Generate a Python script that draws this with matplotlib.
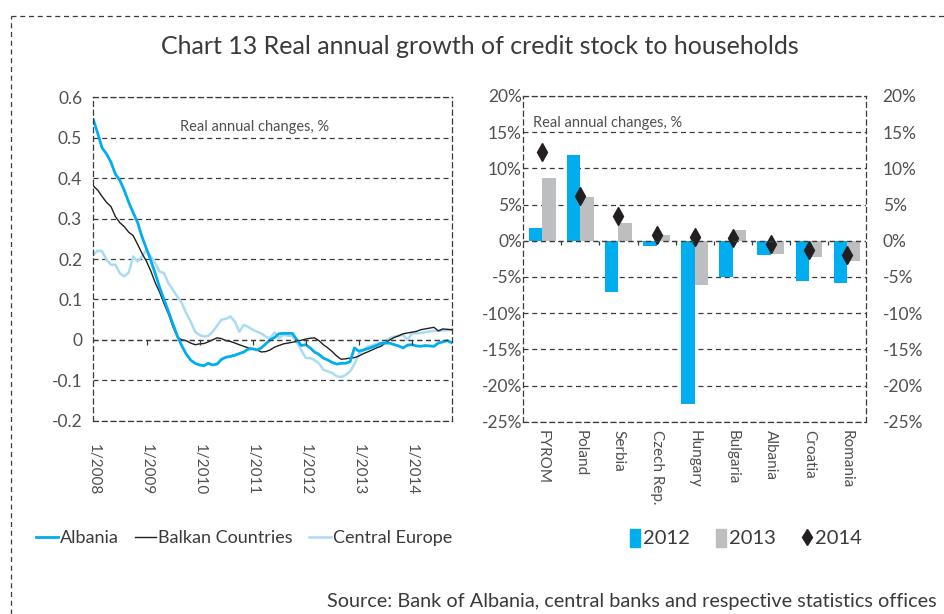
import matplotlib
matplotlib.use("Agg")
import matplotlib.pyplot as plt
from matplotlib.lines import Line2D
from matplotlib.patches import Rectangle
import numpy as np
import pandas as pd

plt.rcParams['font.family'] = ['Lato', 'DejaVu Sans']

# left panel: monthly real annual changes, Jan 2008 - Oct 2014
months = pd.date_range("2008-01-01", periods=82, freq="MS")
albania = [0.545, 0.51, 0.475, 0.46, 0.44, 0.41, 0.395, 0.37, 0.34, 0.315,
           0.29, 0.255, 0.225, 0.195, 0.165, 0.13, 0.10, 0.07, 0.04, 0.01,
           -0.015, -0.035, -0.05, -0.058, -0.062, -0.064, -0.058, -0.062, -0.06, -0.048,
           -0.043, -0.041, -0.038, -0.034, -0.03, -0.023, -0.022, -0.025, -0.02, -0.01,
           0.0, 0.006, 0.015, 0.016, 0.016, 0.016, 0.0, -0.014, -0.012, -0.02,
           -0.03, -0.036, -0.045, -0.05, -0.056, -0.06, -0.058, -0.058, -0.054, -0.02,
           -0.028, -0.025, -0.022, -0.018, -0.014, -0.009, -0.008, -0.008, -0.012, -0.015,
           -0.02, -0.013, -0.012, -0.015, -0.016, -0.014, -0.015, -0.016, -0.008, -0.005,
           -0.002, -0.007]
balkan = [0.381, 0.37, 0.355, 0.34, 0.33, 0.305, 0.29, 0.28, 0.266, 0.258,
          0.236, 0.214, 0.194, 0.169, 0.142, 0.118, 0.09, 0.064, 0.033, 0.007,
          0.0, -0.002, -0.008, -0.012, -0.01, -0.009, -0.005, 0.0, 0.005, 0.003,
          -0.002, -0.004, -0.008, -0.012, -0.016, -0.02, -0.022, -0.025, -0.03, -0.029,
          -0.025, -0.018, -0.014, -0.01, -0.008, -0.006, -0.004, -0.001, 0.002, 0.004,
          0.005, -0.002, -0.012, -0.02, -0.029, -0.04, -0.048, -0.047, -0.045, -0.044,
          -0.04, -0.034, -0.03, -0.025, -0.02, -0.016, -0.008, 0.0, 0.006, 0.01,
          0.015, 0.017, 0.019, 0.021, 0.025, 0.027, 0.029, 0.031, 0.022, 0.027,
          0.026, 0.025]
central_europe = [0.21, 0.221, 0.219, 0.198, 0.186, 0.186, 0.165, 0.157, 0.167, 0.206,
                  0.194, 0.206, 0.223, 0.206, 0.19, 0.169, 0.165, 0.14, 0.124, 0.107,
                  0.091, 0.066, 0.045, 0.02, 0.012, 0.008, 0.01, 0.02, 0.035, 0.05,
                  0.052, 0.058, 0.045, 0.02, 0.037, 0.032, 0.025, 0.02, 0.016, 0.008,
                  0.004, 0.018, 0.005, 0.012, 0.01, 0.01, -0.006, -0.025, -0.045, -0.045,
                  -0.05, -0.058, -0.074, -0.078, -0.082, -0.09, -0.092, -0.087, -0.078, -0.06,
                  -0.035, -0.025, -0.017, -0.014, -0.01, -0.007, -0.003, 0.004, 0.008, 0.01,
                  0.012, 0.0, 0.016, 0.016, 0.017, 0.019, 0.021, 0.022, 0.023, 0.023,
                  0.024, 0.025]
left_yticks = [0.6, 0.5, 0.4, 0.3, 0.2, 0.1, 0, -0.1, -0.2]
left_ylabels = ["0.6", "0.5", "0.4", "0.3", "0.2", "0.1", "0", "-0.1", "-0.2"]
year_ticks = pd.date_range("2008-01-01", "2014-01-01", freq="YS")

# right panel: annual changes by country, %
countries = ["FYROM", "Poland", "Serbia", "Czech Rep.", "Hungary",
             "Bulgaria", "Albania", "Croatia", "Romania"]
y2012 = [1.7, 11.8, -7.1, -0.7, -22.6, -5.0, -1.9, -5.6, -5.85]
y2013 = [8.7, 6.0, 2.4, 0.85, -6.1, 1.45, -1.8, -2.2, -2.75]
y2014 = [12.2, 6.2, 3.45, 0.8, 0.45, 0.4, -0.5, -1.25, -1.9]
right_yticks = [20, 15, 10, 5, 0, -5, -10, -15, -20, -25]
right_ylabels = ["20%", "15%", "10%", "5%", "0%", "-5%", "-10%", "-15%", "-20%", "-25%"]

BLUE = "#00AEEF"
LIGHT = "#A9DCF4"
GREY = "#BCBEC0"
DARK = "#231F20"
TXT = "#505050"
GRID = "#3A3A3A"
dash = (0, (4, 3))

fig = plt.figure(figsize=(9.44, 6.14), dpi=100)

# outer dashed frame (top and left)
fig.add_artist(Line2D([11 / 944, 1], [1 - 16 / 614] * 2, transform=fig.transFigure,
                      color=GRID, lw=0.9, linestyle=dash))
fig.add_artist(Line2D([11 / 944] * 2, [0, 1 - 16 / 614], transform=fig.transFigure,
                      color=GRID, lw=0.9, linestyle=dash))

fig.text(0.508, 1 - 47 / 614, "Chart 13 Real annual growth of credit stock to households",
         ha="center", va="center", fontsize=18, color="#3a3a3a")


def style_frame(ax):
    for s in ax.spines.values():
        s.set_linestyle(dash)
        s.set_color(GRID)
        s.set_linewidth(0.9)
    ax.grid(axis="y", color=GRID, linestyle=dash, linewidth=0.9)
    ax.set_axisbelow(True)
    ax.tick_params(length=0, colors=TXT)


# ---- left panel
ax1 = fig.add_axes([93.3 / 944, 1 - 420.7 / 614, 358.4 / 944, 323.4 / 614])
ax1.plot(months, central_europe, color=LIGHT, lw=1.8, label="Central Europe")
ax1.plot(months, balkan, color=DARK, lw=1.0, label="Balkan Countries")
ax1.plot(months, albania, color=BLUE, lw=2.0, label="Albania")
ax1.set_xlim(months[0], months[-1])
ax1.set_ylim(-0.2, 0.6)
ax1.set_yticks(left_yticks)
ax1.set_yticklabels(left_ylabels, fontsize=12.5)
ax1.set_xticks(year_ticks)
ax1.set_xticklabels([f"1/{d.year}" for d in year_ticks], rotation=270, fontsize=11)
style_frame(ax1)
ax1.tick_params(axis="y", pad=8)
ax1.tick_params(axis="x", pad=17)
ax1.axhline(0, color=GRID, lw=0.9, linestyle=dash)
ax1.vlines(year_ticks[1:], 0, -0.012, color=GRID, lw=0.9)
ax1.text(0.451, 0.908, "Real annual changes, %", transform=ax1.transAxes,
         ha="center", va="center", fontsize=10.5, color=TXT)

h, l = ax1.get_legend_handles_labels()
fig.legend(h[::-1], l[::-1], loc="center left", bbox_to_anchor=(29 / 944, 1 - 538 / 614),
           ncol=3, frameon=False, fontsize=13, handlelength=1.2, handletextpad=0.1,
           columnspacing=0.9, borderaxespad=0, labelcolor="#3a3a3a")

# ---- right panel
ax2 = fig.add_axes([523.3 / 944, 1 - 421.7 / 614, 342.7 / 944, 325.7 / 614])
x = np.arange(len(countries))
w = 0.35
ax2.bar(x - w / 2, y2012, w, color=BLUE, label="2012")
ax2.bar(x + w / 2, y2013, w, color=GREY, label="2013")
ax2.plot(x, y2014, linestyle="none", marker="d", markersize=9, color=DARK, label="2014")
ax2.set_xlim(-0.5, len(countries) - 0.5)
ax2.set_ylim(-25, 20)
ax2.set_yticks(right_yticks)
ax2.set_yticklabels(right_ylabels, fontsize=12.5)
ax2.set_xticks(x)
ax2.set_xticklabels(countries, rotation=270, fontsize=11, va="top")
style_frame(ax2)
ax2.tick_params(axis="y", pad=1)
ax2.tick_params(axis="x", pad=6)
ax2.axhline(0, color=GRID, lw=0.9, linestyle=dash)
ax2.vlines(x[:-1] + 0.5, 0, -0.6, color=GRID, lw=0.9)
ax2.text(0.028, 0.917, "Real annual changes, %", transform=ax2.transAxes,
         ha="left", va="center", fontsize=10.5, color=TXT)
ax3 = ax2.twinx()
ax3.set_ylim(ax2.get_ylim())
ax3.set_yticks(right_yticks)
ax3.set_yticklabels(right_ylabels, fontsize=12.5)
ax3.tick_params(length=0, colors=TXT, pad=12)
for s in ax3.spines.values():
    s.set_visible(False)

bar_handles = [Rectangle((0, 0), 0.4, 1, color=BLUE),
               Rectangle((0, 0), 0.4, 1, color=GREY),
               Line2D([], [], linestyle="none", marker="d", markersize=8, color=DARK)]
fig.legend(bar_handles, ["2012", "2013", "2014"], loc="center left",
           bbox_to_anchor=(622 / 944, 1 - 538 / 614), ncol=3, frameon=False, fontsize=14.5,
           handlelength=0.5, handleheight=1.0, handletextpad=0.15, columnspacing=1.3,
           borderaxespad=0, labelcolor="#3a3a3a")

fig.text(327 / 944, 1 - 602 / 614,
         "Source: Bank of Albania, central banks and respective statistics offices",
         ha="left", va="center", fontsize=14.3, color="#3a3a3a")

fig.savefig("out.png", dpi=100)
